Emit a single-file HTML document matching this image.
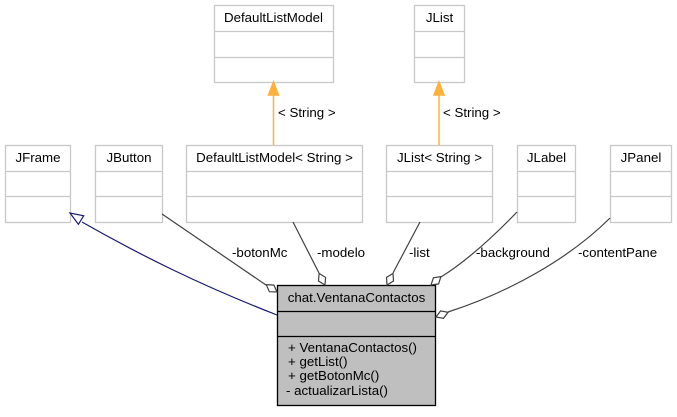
<!DOCTYPE html>
<html><head><meta charset="utf-8"><style>
body{margin:0;background:#fff;}
text{font-family:"Liberation Sans",sans-serif;font-size:13.3px;fill:#000;}
</style></head><body>
<svg width="677" height="412" viewBox="0 0 677 412" xmlns="http://www.w3.org/2000/svg">
<g fill="#fff" stroke="#c8c8c8" stroke-width="1.3">
<rect x="214.5" y="5.5" width="119" height="77"/><line x1="214.5" y1="31.5" x2="333.5" y2="31.5"/><line x1="214.5" y1="57.5" x2="333.5" y2="57.5"/>
<rect x="414.5" y="5.5" width="50" height="77"/><line x1="414.5" y1="31.5" x2="464.5" y2="31.5"/><line x1="414.5" y1="57.5" x2="464.5" y2="57.5"/>
<rect x="5.5" y="145.5" width="65" height="77"/><line x1="5.5" y1="171.5" x2="70.5" y2="171.5"/><line x1="5.5" y1="196.5" x2="70.5" y2="196.5"/>
<rect x="95.5" y="145.5" width="67" height="77"/><line x1="95.5" y1="171.5" x2="162.5" y2="171.5"/><line x1="95.5" y1="196.5" x2="162.5" y2="196.5"/>
<rect x="186.5" y="145.5" width="176" height="77"/><line x1="186.5" y1="171.5" x2="362.5" y2="171.5"/><line x1="186.5" y1="196.5" x2="362.5" y2="196.5"/>
<rect x="386.5" y="145.5" width="106" height="77"/><line x1="386.5" y1="171.5" x2="492.5" y2="171.5"/><line x1="386.5" y1="196.5" x2="492.5" y2="196.5"/>
<rect x="517.5" y="145.5" width="58" height="77"/><line x1="517.5" y1="171.5" x2="575.5" y2="171.5"/><line x1="517.5" y1="196.5" x2="575.5" y2="196.5"/>
<rect x="610.5" y="145.5" width="61" height="77"/><line x1="610.5" y1="171.5" x2="671.5" y2="171.5"/><line x1="610.5" y1="196.5" x2="671.5" y2="196.5"/>
</g>
<text x="273.5" y="22" text-anchor="middle">DefaultListModel</text>
<text x="439.5" y="22" text-anchor="middle">JList</text>
<text x="38" y="162" text-anchor="middle">JFrame</text>
<text x="129" y="162" text-anchor="middle">JButton</text>
<text x="274.5" y="162" text-anchor="middle">DefaultListModel&lt; String &gt;</text>
<text x="439.5" y="162" text-anchor="middle">JList&lt; String &gt;</text>
<text x="546.5" y="162" text-anchor="middle">JLabel</text>
<text x="641" y="162" text-anchor="middle">JPanel</text>
<g stroke="#ffb13b" stroke-width="1.5" fill="#ffb13b">
<line x1="273.5" y1="145" x2="273.5" y2="94"/><polygon points="273.5,82 268.5,95 278.5,95"/>
<line x1="439" y1="145" x2="439" y2="94"/><polygon points="439,82 434,95 444,95"/>
</g>
<text x="278" y="117">&lt; String &gt;</text>
<text x="443" y="117">&lt; String &gt;</text>
<rect x="277.5" y="285.5" width="158" height="120" fill="#bfbfbf" stroke="#000" stroke-width="1.3"/>
<line x1="277.5" y1="311.5" x2="435.5" y2="311.5" stroke="#000" stroke-width="1.3"/>
<line x1="277.5" y1="336.5" x2="435.5" y2="336.5" stroke="#000" stroke-width="1.3"/>
<text x="356.5" y="302" text-anchor="middle">chat.VentanaContactos</text>
<text x="288" y="352">+ VentanaContactos()</text>
<text x="288" y="366">+ getList()</text>
<text x="288" y="380">+ getBotonMc()</text>
<text x="286" y="395">- actualizarLista()</text>
<path d="M277,315 C200,285 140,255 82,222" fill="none" stroke="#191970" stroke-width="1.2"/>
<polygon points="70,213 78.4,224.3 83.7,215.8" fill="#fff" stroke="#191970" stroke-width="1.2"/>
<g stroke="#404040" stroke-width="1.2" fill="none">
<line x1="162" y1="214" x2="266" y2="285"/>
<line x1="293" y1="222" x2="319" y2="273"/>
<line x1="420" y1="222" x2="393" y2="273"/>
<path d="M517,212 C490,240 465,262 441,277"/>
<path d="M610,218 C570,258 510,292 448,312"/>
</g>
<g fill="#fff" stroke="#404040" stroke-width="1.2">
<polygon points="277,292 273.9,285.1 266.2,284.7 269.4,291.7"/>
<polygon points="325,285 325.6,277.4 319.1,273.4 318.5,281"/>
<polygon points="387,285 393.5,281 393,273.5 386.5,277.3"/>
<polygon points="431,285 438.6,283.9 440.9,276.6 433.4,277.8"/>
<polygon points="436,317 443.5,318.3 448.1,312.3 440.6,310.9"/>
</g>
<text x="232" y="257">-botonMc</text>
<text x="317" y="257">-modelo</text>
<text x="409" y="257">-list</text>
<text x="476" y="257">-background</text>
<text x="578" y="257">-contentPane</text>
</svg>
</body></html>
